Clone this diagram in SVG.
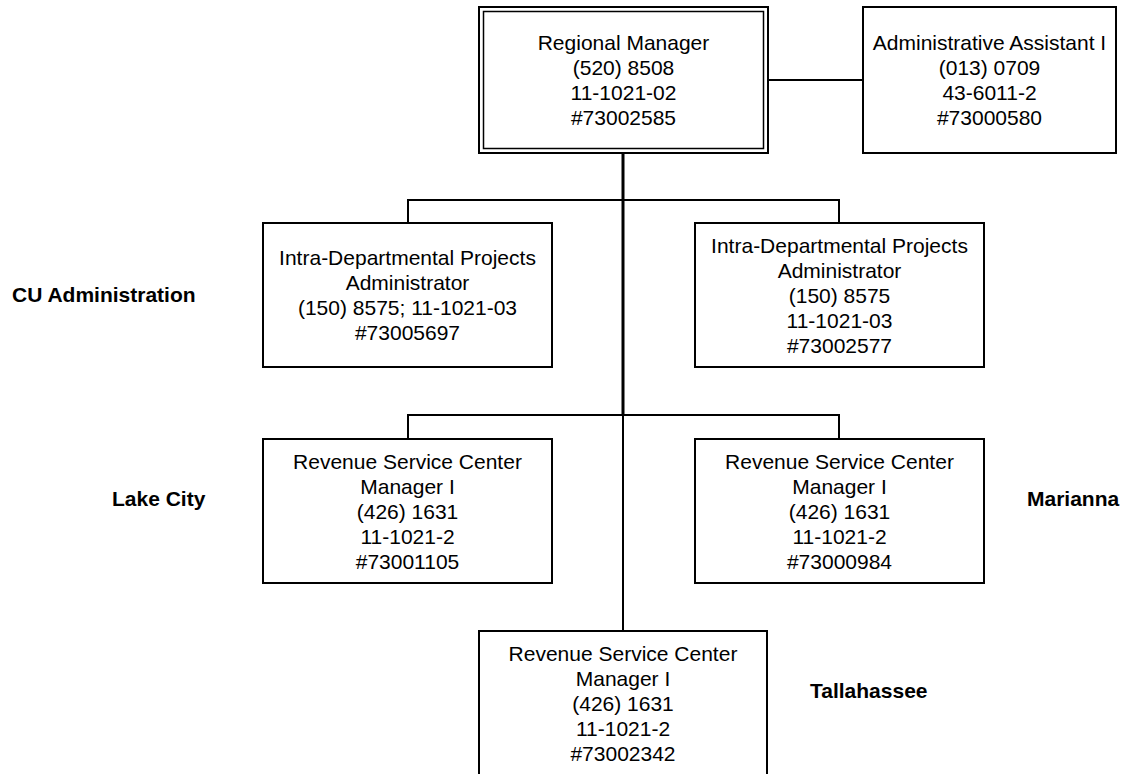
<svg xmlns="http://www.w3.org/2000/svg" width="1147" height="774" viewBox="0 0 1147 774">
  <style>
    .box { fill: #ffffff; stroke: #000000; stroke-width: 2; }
    .inner { fill: none; stroke: #000000; stroke-width: 1.5; }
    .link { fill: none; stroke: #000000; stroke-width: 2; }
    .trunk { fill: none; stroke: #000000; stroke-width: 3; }
    .t { font-family: "Liberation Sans", Arial, sans-serif; font-size: 21px; fill: #000000; text-anchor: middle; }
    .lbl { font-family: "Liberation Sans", Arial, sans-serif; font-size: 21px; font-weight: bold; fill: #000000; }
  </style>
  <rect width="1147" height="774" fill="#ffffff"/>

  <!-- connectors -->
  <g id="connectors">
    <line class="link" x1="768" y1="80" x2="863" y2="80"/>
    <line class="trunk" x1="623" y1="153" x2="623" y2="416"/>
    <line class="link" x1="623" y1="415" x2="623" y2="631"/>
    <polyline class="link" points="408,223 408,200 839,200 839,223"/>
    <polyline class="link" points="408,439 408,415 839,415 839,439"/>
  </g>

  <!-- Regional Manager (double border) -->
  <g id="regional-manager">
    <rect class="box" x="479" y="7" width="289" height="146"/>
    <rect class="inner" x="483.5" y="11.5" width="280" height="137"/>
    <text class="t" x="623.5" y="50">Regional Manager</text>
    <text class="t" x="623.5" y="75">(520) 8508</text>
    <text class="t" x="623.5" y="100">11-1021-02</text>
    <text class="t" x="623.5" y="125">#73002585</text>
  </g>

  <g id="admin-assistant">
    <rect class="box" x="863" y="7" width="253" height="146"/>
    <text class="t" x="989.5" y="50">Administrative Assistant I</text>
    <text class="t" x="989.5" y="75">(013) 0709</text>
    <text class="t" x="989.5" y="100">43-6011-2</text>
    <text class="t" x="989.5" y="125">#73000580</text>
  </g>

  <g id="projects-admin-left">
    <rect class="box" x="263" y="223" width="289" height="144"/>
    <text class="t" x="407.5" y="265">Intra-Departmental Projects</text>
    <text class="t" x="407.5" y="290">Administrator</text>
    <text class="t" x="407.5" y="315">(150) 8575; 11-1021-03</text>
    <text class="t" x="407.5" y="340">#73005697</text>
  </g>

  <g id="projects-admin-right">
    <rect class="box" x="695" y="223" width="289" height="144"/>
    <text class="t" x="839.5" y="252.5">Intra-Departmental Projects</text>
    <text class="t" x="839.5" y="277.5">Administrator</text>
    <text class="t" x="839.5" y="302.5">(150) 8575</text>
    <text class="t" x="839.5" y="327.5">11-1021-03</text>
    <text class="t" x="839.5" y="352.5">#73002577</text>
  </g>

  <g id="rsc-lake-city">
    <rect class="box" x="263" y="439" width="289" height="144"/>
    <text class="t" x="407.5" y="468.5">Revenue Service Center</text>
    <text class="t" x="407.5" y="493.5">Manager I</text>
    <text class="t" x="407.5" y="518.5">(426) 1631</text>
    <text class="t" x="407.5" y="543.5">11-1021-2</text>
    <text class="t" x="407.5" y="568.5">#73001105</text>
  </g>

  <g id="rsc-marianna">
    <rect class="box" x="695" y="439" width="289" height="144"/>
    <text class="t" x="839.5" y="468.5">Revenue Service Center</text>
    <text class="t" x="839.5" y="493.5">Manager I</text>
    <text class="t" x="839.5" y="518.5">(426) 1631</text>
    <text class="t" x="839.5" y="543.5">11-1021-2</text>
    <text class="t" x="839.5" y="568.5">#73000984</text>
  </g>

  <g id="rsc-tallahassee">
    <rect class="box" x="479" y="631" width="288" height="145"/>
    <text class="t" x="623" y="660.5">Revenue Service Center</text>
    <text class="t" x="623" y="685.5">Manager I</text>
    <text class="t" x="623" y="710.5">(426) 1631</text>
    <text class="t" x="623" y="735.5">11-1021-2</text>
    <text class="t" x="623" y="760.5">#73002342</text>
  </g>

  <!-- location labels -->
  <g id="labels">
    <text class="lbl" x="12" y="302">CU Administration</text>
    <text class="lbl" x="112" y="506">Lake City</text>
    <text class="lbl" x="1027" y="506">Marianna</text>
    <text class="lbl" x="810" y="698">Tallahassee</text>
  </g>
</svg>
